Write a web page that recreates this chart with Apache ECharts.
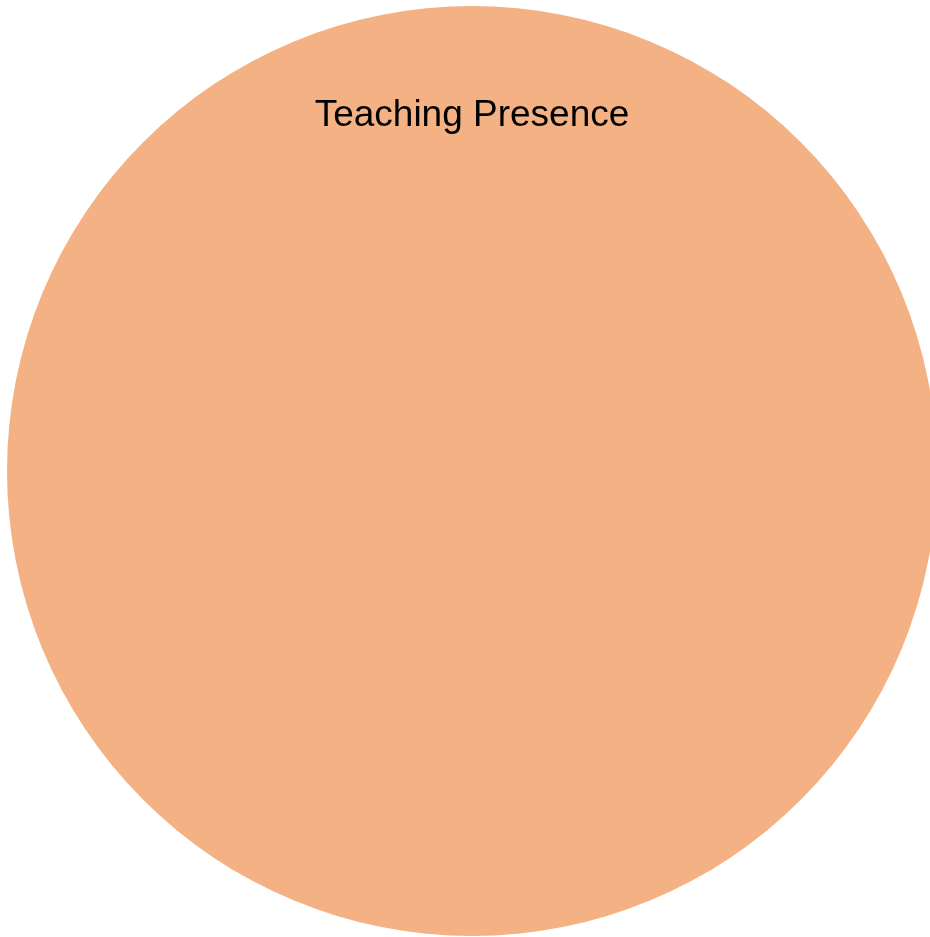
<!DOCTYPE html>
<html>
<head>
<meta charset="utf-8">
<style>
    html, body { margin: 0; padding: 0; background: #fff; }
    #graphic { width: 930px; height: 937px; }
</style>
<script src="https://cdn.jsdelivr.net/npm/echarts@6/dist/echarts.min.js"></script>
</head>
<body>
<div id="graphic"></div>
<script>
var setNames = ["Teaching Presence"];
var setSizes = [1];

var myChart = echarts.init(document.getElementById('graphic'));

var pieData = [];
for (var i = 0, len = setNames.length; i < len; i++) {
    pieData.push({ name: setNames[i], value: setSizes[i] });
}

var option = {
    animation: false,
    color: ['#F4B183'],
    graphic: [
        {
            type: 'text',
            z: 10,
            style: {
                x: 472,
                y: 116,
                text: setNames[0],
                fill: '#000',
                font: '37px "Liberation Sans", Arial, sans-serif',
                textAlign: 'center',
                textVerticalAlign: 'middle'
            }
        }
    ],
    series: [
        {
            type: 'pie',
            center: [472, 471],
            radius: [0, 465],
            silent: true,
            label: { show: false },
            labelLine: { show: false },
            itemStyle: { borderWidth: 0 },
            data: pieData
        }
    ]
};

myChart.setOption(option);
</script>
</body>
</html>
